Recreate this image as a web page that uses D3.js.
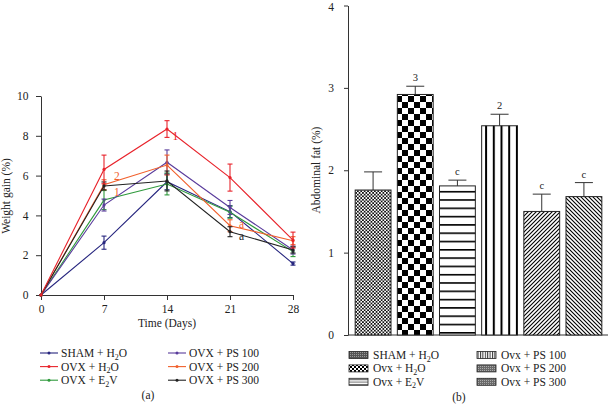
<!DOCTYPE html>
<html><head><meta charset="utf-8">
<script src="https://cdn.jsdelivr.net/npm/d3@7"></script>
<style>body{margin:0;background:#fff}svg{display:block;font-family:"Liberation Serif","DejaVu Serif",serif}</style>
</head><body><svg id="c" width="608" height="410"></svg>
<script>
// ---------- data: panel (a) ----------
const days = [0, 7, 14, 21, 28];
const seriesNames = ["SHAM + H2O", "OVX + H2O", "OVX + E2V", "OVX + PS 100", "OVX + PS 200", "OVX + PS 300"];
const shamH2O  = [0, 2.63, 5.69, 4.19, 1.58];
const ovxH2O   = [0, 6.31, 8.34, 5.90, 2.76];
const ovxE2V   = [0, 4.77, 5.58, 4.16, 2.18];
const ovxPS100 = [0, 4.52, 6.67, 4.40, 2.26];
const ovxPS200 = [0, 5.54, 6.53, 3.48, 2.73];
const ovxPS300 = [0, 5.48, 5.73, 3.18, 2.26];
const errSham  = [0, 0.33, 0.40, 0.30, 0.08];
const errH2O   = [0, 0.72, 0.42, 0.68, 0.40];
const errE2V   = [0, 0.48, 0.55, 0.30, 0.25];
const err100   = [0, 0.30, 0.62, 0.35, 0.20];
const err200   = [0, 0.25, 0.50, 0.30, 0.20];
const err300   = [0, 0.20, 0.50, 0.25, 0.15];
const seriesColors = ["#27267f", "#e8232b", "#2f9a3c", "#5a3c9c", "#f1602c", "#222222"];
const yTicksA = [0, 2, 4, 6, 8, 10];
// annotations: [day, value, text, series colour index]
const notesA = [[8.1, 5.78, "2", 4], [8.1, 4.97, "1", 4], [14.6, 7.8, "1", 1], [22.0, 3.37, "a", 4], [22.0, 2.78, "a", 5]];

// ---------- data: panel (b) ----------
const groups = ["SHAM + H2O", "Ovx + H2O", "Ovx + E2V", "Ovx + PS 100", "Ovx + PS 200", "Ovx + PS 300"];
const fatValues = [1.76, 2.92, 1.81, 2.54, 1.50, 1.68];
const fatErrors = [0.22, 0.10, 0.07, 0.14, 0.21, 0.17];
const fatLabels = ["", "3", "c", "2", "c", "c"];
const yTicksB = [0, 1, 2, 3, 4];

const svg = d3.select("#c");
const FS = 11.5;

// ---------- patterns ----------
const defs = svg.append("defs");
function pat(id, w, h, draw) {
  const p = defs.append("pattern").attr("id", id).attr("patternUnits", "userSpaceOnUse").attr("width", w).attr("height", h);
  p.append("rect").attr("width", w).attr("height", h).attr("fill", "#fff");
  draw(p);
}
pat("p0", 3.4, 3.4, p => { p.append("rect").attr("width", 1.7).attr("height", 1.7).attr("fill", "#111"); p.append("rect").attr("x", 1.7).attr("y", 1.7).attr("width", 1.7).attr("height", 1.7).attr("fill", "#111"); });
pat("p1", 12, 12, p => { p.append("rect").attr("width", 6).attr("height", 6).attr("fill", "#000"); p.append("rect").attr("x", 6).attr("y", 6).attr("width", 6).attr("height", 6).attr("fill", "#000"); });
pat("p2", 10, 8.3, p => { p.append("rect").attr("y", 0).attr("width", 10).attr("height", 1.6).attr("fill", "#000"); });
pat("p3", 7.7, 10, p => { p.append("rect").attr("x", 0).attr("width", 2).attr("height", 10).attr("fill", "#000"); });
pat("p4", 4, 4, p => { p.append("path").attr("d", "M-1,5 L5,-1 M-1,1 L1,-1 M3,5 L5,3").attr("stroke", "#000").attr("stroke-width", 1.1); });
pat("p5", 4, 4, p => { p.append("path").attr("d", "M-1,-1 L5,5 M3,-1 L5,1 M-1,3 L1,5").attr("stroke", "#000").attr("stroke-width", 1.1); });
pat("pl0", 2, 2, p => { p.append("rect").attr("width", 2).attr("height", 2).attr("fill", "#555"); p.append("rect").attr("width", 1).attr("height", 1).attr("fill", "#999"); });
pat("pl1", 4, 4, p => { p.append("rect").attr("width", 2).attr("height", 2).attr("fill", "#000"); p.append("rect").attr("x", 2).attr("y", 2).attr("width", 2).attr("height", 2).attr("fill", "#000"); });
pat("pl2", 10, 2.4, p => { p.append("rect").attr("width", 10).attr("height", 1).attr("fill", "#666"); });
pat("pl3", 2.4, 10, p => { p.append("rect").attr("width", 1).attr("height", 10).attr("fill", "#333"); });
pat("pl4", 2, 2, p => { p.append("rect").attr("width", 2).attr("height", 2).attr("fill", "#6a6a6a"); p.append("rect").attr("width", 1).attr("height", 1).attr("fill", "#aaa"); });

// ---------- panel (a) ----------
const xA = d3.scaleLinear().domain([0, 28]).range([41, 293]);
const yA = d3.scaleLinear().domain([0, 10]).range([295, 96]);
const gA = svg.append("g");
gA.append("g").attr("transform", "translate(0,295)")
  .call(d3.axisBottom(xA).tickValues(days).tickSize(5).tickSizeOuter(0))
  .call(g => { g.selectAll("text").attr("font-size", FS).attr("font-family", "Liberation Serif").attr("fill", "#222").attr("dy", "0.85em"); g.selectAll("line,path").attr("stroke", "#333"); });
gA.append("g").attr("transform", "translate(41,0)")
  .call(d3.axisLeft(yA).tickValues(yTicksA).tickSize(5).tickSizeOuter(0))
  .call(g => { g.selectAll("text").attr("font-size", FS).attr("font-family", "Liberation Serif").attr("fill", "#222").attr("dx", "-0.4em"); g.selectAll("line,path").attr("stroke", "#333"); });
gA.append("text").attr("x", 167).attr("y", 327).attr("text-anchor", "middle").attr("font-size", FS).attr("fill", "#222").text("Time (Days)");
gA.append("text").attr("transform", "translate(10,196) rotate(-90)").attr("text-anchor", "middle").attr("font-size", FS).attr("fill", "#222").text("Weight gain (%)");

const allVals = [shamH2O, ovxH2O, ovxE2V, ovxPS100, ovxPS200, ovxPS300];
const allErr = [errSham, errH2O, errE2V, err100, err200, err300];
const drawOrder = [0, 2, 3, 4, 5, 1];
const line = d3.line().x((d, i) => xA(days[i])).y(d => yA(d));
drawOrder.forEach(s => {
  const c = seriesColors[s];
  const g = gA.append("g");
  g.append("path").attr("d", line(allVals[s])).attr("fill", "none").attr("stroke", c).attr("stroke-width", 1.1);
  allVals[s].forEach((v, i) => {
    const e = allErr[s][i];
    if (e > 0) {
      const x = xA(days[i]);
      g.append("line").attr("x1", x).attr("x2", x).attr("y1", yA(v - e)).attr("y2", yA(v + e)).attr("stroke", c).attr("stroke-width", 1.1);
      [v - e, v + e].forEach(w => g.append("line").attr("x1", x - 2.5).attr("x2", x + 2.5).attr("y1", yA(w)).attr("y2", yA(w)).attr("stroke", c).attr("stroke-width", 1.1));
    }
    g.append("circle").attr("cx", xA(days[i])).attr("cy", yA(v)).attr("r", 1.6).attr("fill", c);
  });
});
notesA.forEach(([d, v, t, s]) => {
  gA.append("text").attr("x", xA(d)).attr("y", yA(v)).attr("font-size", 11.5).attr("fill", seriesColors[s]).text(t);
});

function subLabel(sel, label) {
  const m = label.match(/^(.*?)(H|E)2(O|V)?(.*)$/);
  if (!m) { sel.text(label); return; }
  sel.append("tspan").text(m[1] + m[2]);
  sel.append("tspan").attr("font-size", 8).attr("dy", 2.5).text("2");
  sel.append("tspan").attr("dy", -2.5).text((m[3] || "") + m[4]);
}
// legend (a)
seriesNames.forEach((n, i) => {
  const col = Math.floor(i / 3), row = i % 3;
  const x0 = col ? 168 : 40, y0 = 353 + row * 13.6;
  const g = gA.append("g");
  g.append("line").attr("x1", x0).attr("x2", x0 + 18).attr("y1", y0).attr("y2", y0).attr("stroke", seriesColors[i]).attr("stroke-width", 1.1);
  g.append("circle").attr("cx", x0 + 9).attr("cy", y0).attr("r", 1.5).attr("fill", seriesColors[i]);
  subLabel(g.append("text").attr("x", x0 + 21).attr("y", y0 + 4).attr("font-size", FS).attr("fill", "#222"), n);
});
gA.append("text").attr("x", 148).attr("y", 399).attr("text-anchor", "middle").attr("font-size", FS).attr("fill", "#222").text("(a)");

// ---------- panel (b) ----------
const yB = d3.scaleLinear().domain([0, 4]).range([335, 5.5]);
const xB = d3.scaleBand().domain(groups).range([348, 609]).paddingInner(0.15).paddingOuter(0.17);
const gB = svg.append("g");
gB.append("g").attr("transform", "translate(348,0)")
  .call(d3.axisLeft(yB).tickValues(yTicksB).tickFormat(d3.format("d")).tickSize(4).tickSizeOuter(0))
  .call(g => { g.selectAll("text").attr("font-size", FS).attr("font-family", "Liberation Serif").attr("fill", "#222").attr("dx", "-0.6em").attr("dy", d => d === 4 ? "0.42em" : "0.32em"); g.selectAll("line,path").attr("stroke", "#333"); });
gB.append("line").attr("x1", 348).attr("x2", 608).attr("y1", 335).attr("y2", 335).attr("stroke", "#333");
gB.append("text").attr("transform", "translate(320,170) rotate(-90)").attr("text-anchor", "middle").attr("font-size", FS).attr("fill", "#222").text("Abdominal fat (%)");

groups.forEach((gname, i) => {
  const x = xB(gname), w = xB.bandwidth(), v = fatValues[i], e = fatErrors[i];
  const cx = x + w / 2;
  gB.append("line").attr("x1", cx).attr("x2", cx).attr("y1", yB(v)).attr("y2", yB(v + e)).attr("stroke", "#333").attr("stroke-width", 1);
  gB.append("line").attr("x1", cx - 9).attr("x2", cx + 9).attr("y1", yB(v + e)).attr("y2", yB(v + e)).attr("stroke", "#333").attr("stroke-width", 1);
  gB.append("rect").attr("x", x).attr("y", yB(v)).attr("width", w).attr("height", yB(0) - yB(v))
    .attr("fill", `url(#p${i})`).attr("stroke", "#222").attr("stroke-width", 1);
  if (fatLabels[i]) gB.append("text").attr("x", cx).attr("y", yB(v + e) - 5).attr("text-anchor", "middle").attr("font-size", 10.5).attr("fill", "#222").text(fatLabels[i]);
});
// legend (b)
groups.forEach((n, i) => {
  const col = Math.floor(i / 3), row = i % 3;
  const x0 = col ? 477 : 349, y0 = 355 + row * 13.4;
  const legPat = ["pl0", "pl1", "pl2", "pl3", "pl4", "pl4"][i];
  gB.append("rect").attr("x", x0).attr("y", y0 - 3.5).attr("width", 19).attr("height", 7).attr("fill", `url(#${legPat})`).attr("stroke", "#222").attr("stroke-width", 0.8);
  subLabel(gB.append("text").attr("x", x0 + 24).attr("y", y0 + 4).attr("font-size", FS).attr("fill", "#222"), n);
});
gB.append("text").attr("x", 459).attr("y", 401).attr("text-anchor", "middle").attr("font-size", FS).attr("fill", "#222").text("(b)");
</script></body></html>
